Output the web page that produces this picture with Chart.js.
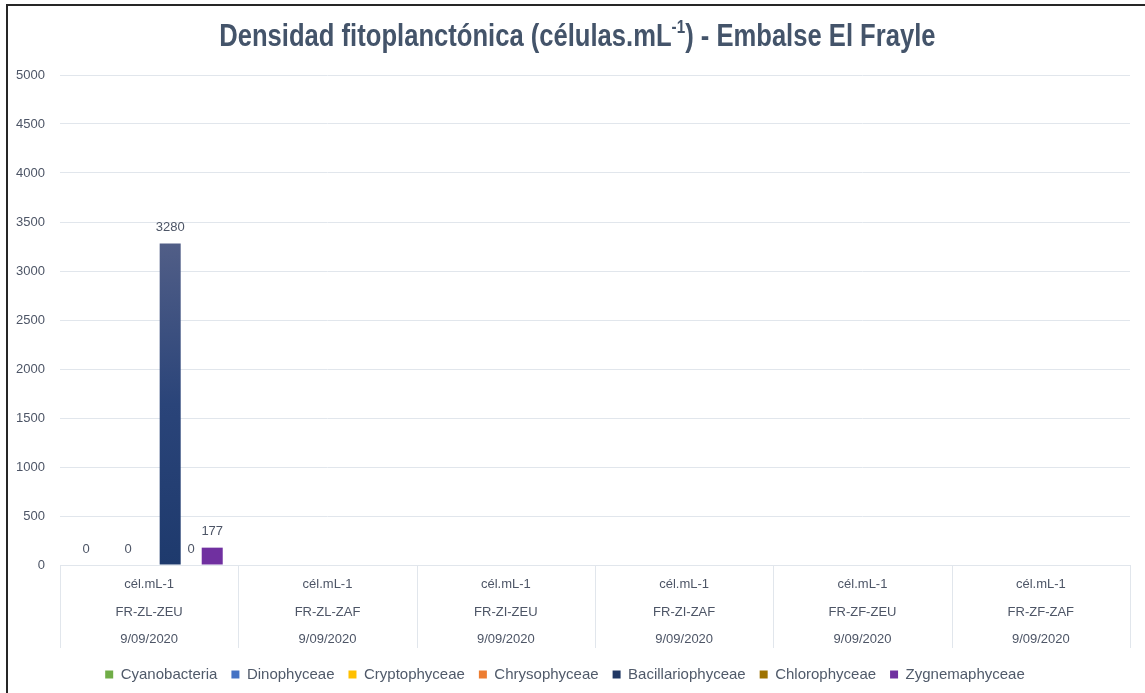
<!DOCTYPE html>
<html>
<head>
<meta charset="utf-8">
<script src="https://cdn.jsdelivr.net/npm/chart.js@4.4.0/dist/chart.umd.min.js"></script>
<style>
  html,body{margin:0;padding:0;background:#fff;width:1145px;height:693px;overflow:hidden}
  #frame{position:absolute;left:6px;top:4px;width:1150px;height:700px;border-left:2px solid #262626;border-top:2px solid #262626}
  #title{position:absolute;left:0;top:17px;width:1155px;text-align:center;font-family:'Liberation Sans',Arial,sans-serif;font-weight:bold;font-size:32px;color:#44546a;white-space:nowrap;transform:scaleX(0.8);transform-origin:577px 0}
  #title sup{font-size:19px;vertical-align:13px;line-height:0}
  #wrap{position:absolute;left:0;top:0;width:1145px;height:693px}
</style>
</head>
<body>
<div id="frame"></div>
<div id="wrap"><canvas id="c"></canvas></div>
<div id="title">Densidad fitoplanctónica (células.mL<sup>-1</sup>) - Embalse El Frayle</div>
<script>
// categorías (3 líneas por estación)
const categorias = [
  ['cél.mL-1','FR-ZL-ZEU','9/09/2020'],
  ['cél.mL-1','FR-ZL-ZAF','9/09/2020'],
  ['cél.mL-1','FR-ZI-ZEU','9/09/2020'],
  ['cél.mL-1','FR-ZI-ZAF','9/09/2020'],
  ['cél.mL-1','FR-ZF-ZEU','9/09/2020'],
  ['cél.mL-1','FR-ZF-ZAF','9/09/2020']
];
const grupos = ['Cyanobacteria','Dinophyceae','Cryptophyceae','Chrysophyceae','Bacillariophyceae','Chlorophyceae','Zygnemaphyceae'];
const colores = ['#70ad47','#4472c4','#ffc000','#ed7d31','#203864','#9e7200','#7030a0'];

const cyanobacteria     = [0, null, null, null, null, null];
const dinophyceae       = [null, null, null, null, null, null];
const cryptophyceae     = [0, null, null, null, null, null];
const chrysophyceae     = [null, null, null, null, null, null];
const bacillariophyceae = [3280, null, null, null, null, null];
const chlorophyceae     = [0, null, null, null, null, null];
const zygnemaphyceae    = [177, null, null, null, null, null];

const yMin = 0, yMax = 5000, yPaso = 500;

const series = [cyanobacteria, dinophyceae, cryptophyceae, chrysophyceae, bacillariophyceae, chlorophyceae, zygnemaphyceae];

const FONT = "'Liberation Sans',Arial,sans-serif";
const TXT = '#4d5566';
const GRID = '#e1e6ec';

// degradado para Bacillariophyceae
function fondo(i){
  if(i!==4) return colores[i];
  return c=>{
    const ch=c.chart;
    if(!ch.chartArea) return colores[i];
    const y=ch.scales.y;
    const top=y.getPixelForValue(Math.max(...bacillariophyceae.filter(v=>v!==null)));
    const g=ch.ctx.createLinearGradient(0,top,0,y.getPixelForValue(0));
    g.addColorStop(0,'#515e87');
    g.addColorStop(0.5,'#2a4479');
    g.addColorStop(1,'#1e3a6d');
    return g;
  };
}

const etiquetas = {
  id:'etiquetas',
  afterDatasetsDraw(chart){
    const ctx=chart.ctx;
    ctx.save();
    ctx.font="13px "+FONT;
    ctx.fillStyle=TXT;
    ctx.textAlign='center';
    ctx.textBaseline='middle';
    chart.data.datasets.forEach((ds,i)=>{
      chart.getDatasetMeta(i).data.forEach((bar,j)=>{
        const v=ds.data[j];
        if(v===null||v===undefined) return;
        ctx.fillText(String(v), bar.x, bar.y-16);
      });
    });
    ctx.restore();
  }
};

const separadores = {
  id:'separadores',
  afterDraw(chart){
    const x=chart.scales.x, ctx=chart.ctx, n=categorias.length;
    const paso=(x.right-x.left)/n;
    ctx.save();
    ctx.strokeStyle=GRID;
    ctx.lineWidth=1;
    for(let i=0;i<=n;i++){
      const px=Math.round(x.left+i*paso)+0.5;
      ctx.beginPath();
      ctx.moveTo(px,chart.chartArea.bottom);
      ctx.lineTo(px,chart.chartArea.bottom+83);
      ctx.stroke();
    }
    ctx.restore();
  }
};

new Chart(document.getElementById('c'),{
  type:'bar',
  data:{
    labels:categorias,
    datasets:series.map((d,i)=>({
      label:grupos[i],
      data:d,
      backgroundColor:fondo(i),
      borderWidth:0,
      barPercentage:1,
      categoryPercentage:0.825
    }))
  },
  options:{
    responsive:true, maintainAspectRatio:false, animation:false,
    layout:{padding:{top:75,right:15,bottom:1,left:0}},
    plugins:{
      legend:{
        position:'bottom',
        labels:{
          font:{family:FONT,size:15},color:'#505a6a',
          boxWidth:8,boxHeight:8,padding:14,
          generateLabels:()=>grupos.map((g,i)=>({text:g,fillStyle:colores[i],strokeStyle:colores[i],lineWidth:0,fontColor:'#505a6a',datasetIndex:i}))
        }
      },
      tooltip:{enabled:false}
    },
    scales:{
      y:{
        min:yMin,max:yMax,
        ticks:{stepSize:yPaso,font:{family:FONT,size:13},color:TXT,padding:15,callback:v=>String(v)},
        grid:{color:GRID,drawTicks:false},
        border:{display:false},
        afterFit:s=>{s.width=60;}
      },
      x:{
        grid:{display:false},
        border:{display:true,color:GRID},
        ticks:{font:{family:FONT,size:13,lineHeight:2.15},color:TXT,padding:-3,maxRotation:0,autoSkip:false},
        afterFit:s=>{s.height=88;}
      }
    }
  },
  plugins:[etiquetas,separadores]
});
</script>
</body>
</html>
